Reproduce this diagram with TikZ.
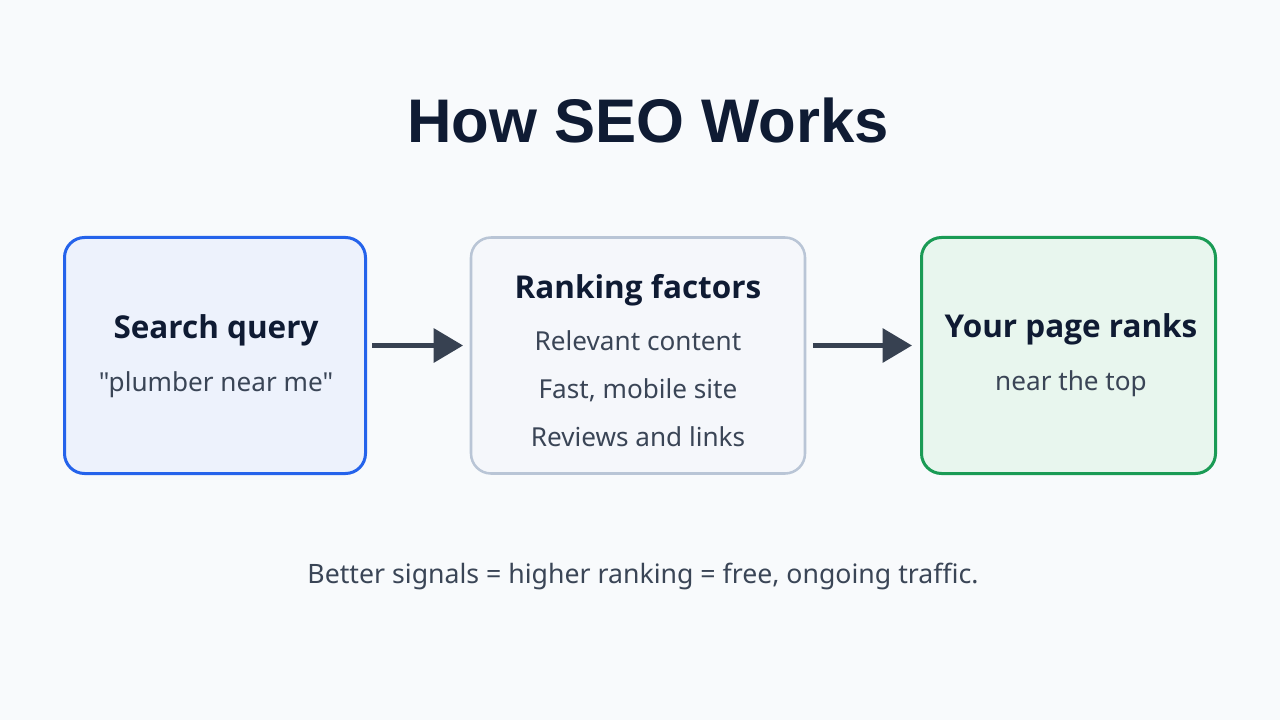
\documentclass[tikz,border=0pt]{standalone}
\usepackage{fontspec}
\setmainfont{Noto Sans}[Ligatures=TeXOff]
\newfontfamily\headfont{Open Sans}
\newfontfamily\titlefont{Liberation Sans}
\usetikzlibrary{arrows.meta}
\definecolor{bg}{HTML}{F8FAFC}
\definecolor{navy}{HTML}{0F1B33}
\definecolor{body}{HTML}{3A4556}
\definecolor{blueB}{HTML}{2563EB}
\definecolor{blueF}{HTML}{EDF2FC}
\definecolor{grayB}{HTML}{B9C5D6}
\definecolor{grayF}{HTML}{F5F7FB}
\definecolor{greenB}{HTML}{1A9B55}
\definecolor{greenF}{HTML}{E8F6EE}
\definecolor{arrowC}{HTML}{374151}
\begin{document}
\begin{tikzpicture}[x=0.75pt,y=-0.75pt,
  box/.style={rounded corners=15pt, line width=2.25pt, minimum height=177pt, inner sep=0pt},
  head/.style={font=\headfont\fontsize{23.6}{26}\selectfont\bfseries, text=navy, anchor=base},
  sub/.style={font=\fontsize{19.6}{22}\selectfont, text=body, anchor=base},
  arr/.style={line width=3.75pt, draw=arrowC, -{Triangle[length=22pt,width=25pt]}}]
\fill[bg] (0,0) rectangle (1280,720);
\useasboundingbox (0,0) rectangle (1280,720);
\node[font=\titlefont\fontsize{46.2}{50}\selectfont\bfseries, text=navy, anchor=base] (title) at (648,143) {How SEO Works};
\node[box, draw=blueB, fill=blueF, minimum width=225.75pt] (b1) at (215,355.5) {};
\node[box, draw=grayB, fill=grayF, minimum width=250.5pt, line width=1.9pt] (b2) at (638,355.5) {};
\node[box, draw=greenB, fill=greenF, minimum width=220.5pt] (b3) at (1068.5,355.5) {};
\node[head] (h1) at (216,338) {Search query};
\node[sub] (s1) at (216,391) {"plumber near me"};
\node[head] (h2) at (638,298) {Ranking factors};
\node[sub] (s2a) at (638,350) {Relevant content};
\node[sub] (s2b) at (638,398) {Fast, mobile site};
\node[sub] (s2c) at (638,446) {Reviews and links};
\node[head] (h3) at (1071,337) {Your page ranks};
\node[sub] (s3) at (1071,390) {near the top};
\draw[arr] ([xshift=4pt,yshift=7.5pt]b1.east) -- ([xshift=-5pt,yshift=7.5pt]b2.west);
\draw[arr] ([xshift=5pt,yshift=7.5pt]b2.east) -- ([xshift=-6pt,yshift=7.5pt]b3.west);
\node[sub, font=\fontsize{20}{24}\selectfont] (foot) at (643,583) {Better signals = higher ranking = free, ongoing traffic.};
\end{tikzpicture}
\end{document}
